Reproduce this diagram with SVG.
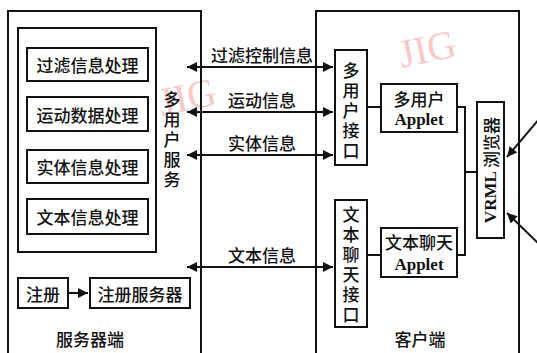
<svg xmlns="http://www.w3.org/2000/svg" width="537" height="353" viewBox="0 0 537 353">
<defs>
<style>
.t{font-family:"Noto Sans CJK SC","Noto Sans",sans-serif;font-size:17px;font-weight:500;fill:#111;text-anchor:middle;dominant-baseline:central}
.v{font-family:"Noto Sans CJK SC","Noto Sans",sans-serif;font-size:17px;font-weight:500;fill:#111;writing-mode:vertical-rl;text-orientation:upright;letter-spacing:3px}
.a{font-family:"Liberation Serif","Noto Sans CJK SC",serif;font-size:17px;font-weight:bold;fill:#111;text-anchor:middle;dominant-baseline:central}
.b{fill:#fff;stroke:#111;stroke-width:2}
.c{fill:none;stroke:#111;stroke-width:2}
.l{fill:none;stroke:#111;stroke-width:2}
.w{font-family:"Liberation Serif",serif;font-size:40px;fill:#f7b3b3;opacity:0.7;text-anchor:middle}
</style>
<marker id="ah" viewBox="0 0 10 10" refX="10" refY="5" markerWidth="6" markerHeight="5" markerUnits="strokeWidth" orient="auto-start-reverse">
<path d="M0,0 L10,5 L0,10 z" fill="#111"/>
</marker>
</defs>
<rect width="537" height="353" fill="#fff"/>
<g id="watermarks">
<text class="w" x="430" y="62" transform="rotate(-12 430 62)">JIG</text>
<text class="w" x="190" y="110" transform="rotate(-12 190 110)">JIG</text>
</g>
<g id="server">
<path class="c" d="M8,360 V11 H201 V360"/>
<text class="t" x="90" y="338">服务器端</text>
</g>
<g id="client">
<path class="c" d="M316,360 V11 H519 V360"/>
<text class="t" x="420" y="338">客户端</text>
</g>
<g id="processing">
<rect class="b" x="18" y="28" width="138" height="224"/>
</g>
<g id="filter"><rect class="b" x="27" y="48" width="121" height="33"/><text class="t" x="87.5" y="64.5">过滤信息处理</text></g>
<g id="motion"><rect class="b" x="27" y="97" width="121" height="34"/><text class="t" x="87.5" y="114">运动数据处理</text></g>
<g id="entity"><rect class="b" x="27" y="150" width="121" height="33"/><text class="t" x="87.5" y="166.5">实体信息处理</text></g>
<g id="textproc"><rect class="b" x="27" y="199" width="121" height="35"/><text class="t" x="87.5" y="216.5">文本信息处理</text></g>
<g id="multiservice">
<text class="v" x="172" y="91">多用户服务</text>
</g>
<g id="register"><rect class="b" x="18" y="278" width="50" height="30"/><text class="t" x="43" y="293">注册</text></g>
<g id="regserver"><rect class="b" x="90" y="278" width="100" height="30"/><text class="t" x="140" y="293">注册服务器</text></g>
<g id="mui">
<rect class="b" x="335" y="50" width="32" height="115"/>
<text class="v" x="351" y="62">多用户接口</text>
</g>
<g id="tci">
<rect class="b" x="335" y="200" width="32" height="127"/>
<text class="v" x="351" y="206">文本聊天接口</text>
</g>
<g id="muapplet">
<rect class="b" x="381" y="84" width="76" height="48"/>
<text class="t" x="419" y="98">多用户</text>
<text class="a" x="419" y="119">Applet</text>
</g>
<g id="tcapplet">
<rect class="b" x="381" y="228" width="76" height="49"/>
<text class="t" x="419" y="241">文本聊天</text>
<text class="a" x="419" y="264">Applet</text>
</g>
<g id="vrml">
<rect class="b" x="477" y="102" width="27" height="136"/>
<text class="a" x="490" y="170" transform="rotate(-90 490 170)"><tspan>VRML </tspan><tspan style="font-family:'Noto Sans CJK SC',sans-serif;font-weight:500">浏览器</tspan></text>
</g>
<g id="connectors">
<line class="l" x1="187" y1="67" x2="333" y2="67" marker-start="url(#ah)" marker-end="url(#ah)"/>
<line class="l" x1="187" y1="112" x2="333" y2="112" marker-start="url(#ah)" marker-end="url(#ah)"/>
<line class="l" x1="187" y1="155" x2="333" y2="155" marker-start="url(#ah)" marker-end="url(#ah)"/>
<line class="l" x1="187" y1="267" x2="333" y2="267" marker-start="url(#ah)" marker-end="url(#ah)"/>
<text class="t" x="262" y="54">过滤控制信息</text>
<text class="t" x="262" y="99">运动信息</text>
<text class="t" x="262" y="142">实体信息</text>
<text class="t" x="262" y="254">文本信息</text>
<line class="l" x1="68" y1="293" x2="88" y2="293" marker-end="url(#ah)"/>
<line class="l" x1="367" y1="107" x2="381" y2="107"/>
<line class="l" x1="367" y1="255" x2="381" y2="255"/>
<path class="l" d="M457,107 H465 V255 H457"/>
<line class="l" x1="465" y1="172" x2="477" y2="172"/>
<line class="l" x1="540" y1="118" x2="507" y2="157" marker-end="url(#ah)"/>
<line class="l" x1="540" y1="245" x2="507" y2="213" marker-end="url(#ah)"/>
</g>
</svg>
